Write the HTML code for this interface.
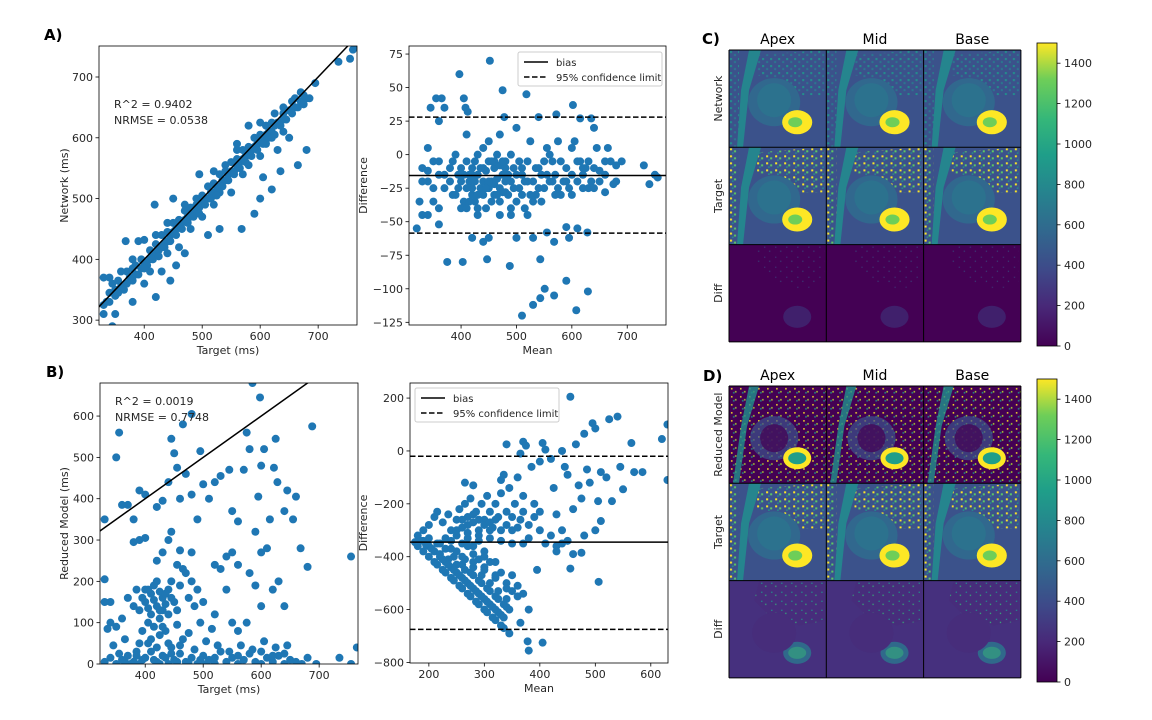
<!DOCTYPE html>
<html><head><meta charset="utf-8">
<style>
html,body{margin:0;padding:0;background:#fff;}
svg{display:block;font-family:"DejaVu Sans","Liberation Sans",sans-serif;}
.tk{font-size:11px;fill:#262626;}
.lab{font-size:11px;fill:#262626;}
.lg{font-size:10px;fill:#262626;}
.pl{font-size:15px;font-weight:bold;fill:#000;}
.ttl{font-size:14px;fill:#000;}
</style></head>
<body>
<svg id="fig" width="1152" height="720" viewBox="0 0 1152 720" xmlns="http://www.w3.org/2000/svg">
<defs>
<linearGradient id="viridis" x1="0" y1="1" x2="0" y2="0">
<stop offset="0" stop-color="#440154"/><stop offset="0.13" stop-color="#482878"/><stop offset="0.25" stop-color="#3e4989"/><stop offset="0.38" stop-color="#31688e"/><stop offset="0.5" stop-color="#26828e"/><stop offset="0.63" stop-color="#1f9e89"/><stop offset="0.75" stop-color="#35b779"/><stop offset="0.88" stop-color="#6ece58"/><stop offset="1" stop-color="#fde725"/>
</linearGradient>
<pattern id="noiseT" width="9" height="7" patternUnits="userSpaceOnUse">
<rect width="9" height="7" fill="#3b528b"/><rect x="1" y="1" width="2" height="2" fill="#fde725"/><rect x="5" y="3" width="2" height="2" fill="#5ec962"/><rect x="3" y="5" width="1.5" height="1.5" fill="#21918c"/>
</pattern>
<pattern id="noiseN" width="8" height="7" patternUnits="userSpaceOnUse">
<rect width="8" height="7" fill="#3b528b"/><rect x="1" y="1" width="2" height="2" fill="#21918c"/><rect x="5" y="4" width="2" height="2" fill="#2a788e"/>
</pattern>
<pattern id="noiseD" width="11" height="10" patternUnits="userSpaceOnUse">
<rect width="11" height="10" fill="#440154"/><rect x="2" y="2" width="1.2" height="1.2" fill="#3b528b"/><rect x="7" y="6" width="1.2" height="1.2" fill="#31688e"/>
</pattern>
<pattern id="noiseR" width="9" height="8" patternUnits="userSpaceOnUse">
<rect width="9" height="8" fill="#440154"/><rect x="2" y="2" width="1.5" height="1.5" fill="#fde725"/><rect x="6" y="5" width="1.5" height="1.5" fill="#b5de2b"/><rect x="4" y="6" width="1.5" height="1.5" fill="#21918c"/>
</pattern>
<pattern id="noiseDD" width="10" height="9" patternUnits="userSpaceOnUse">
<rect width="10" height="9" fill="#472d7b"/><rect x="2" y="2" width="1.3" height="1.3" fill="#21918c"/><rect x="6" y="5" width="1.3" height="1.3" fill="#35b779"/>
</pattern>
</defs>
<g id="plots"></g>
<g id="panels"></g>
</svg>
<script>
// ---------- DATA ----------
const aTarget=[330,335,340,345,350,355,360,365,370,375,380,385,390,395,400,405,410,415,420,425,430,435,440,445,450,455,460,465,470,475,480,485,490,495,500,505,510,515,520,525,530,535,540,545,550,555,560,565,570,575,580,585,590,595,600,605,610,615,620,625,630,640,650,660,670,680,345,330,350,368,390,400,418,420,445,450,455,460,470,480,495,510,530,540,560,568,580,590,600,605,620,635,640,650,665,680,695,735,755,760,765,350,380,400,430,460,500,520,550,570,600,630,440,410,420,470,520,560,600,625,655,675,685,380,360,340,330,330,440,480,530,580,610,620,640,
340,355,370,385,400,415,425,435,445,455,465,475,485,495,505,515,525,535,545,555,565,575,585,595,605,615,625,635,645,655,665,675,410,430,450,470,490,510,530,550,570,590,610,380,395,420,440,460,480,500,520,540,560,580,600,620,640,660,670];
const aNetwork=[370,330,345,360,340,365,355,350,380,370,365,390,375,385,395,390,400,405,410,415,420,425,430,440,445,450,455,460,465,470,475,480,490,485,495,500,500,510,510,520,520,530,530,540,545,545,555,560,565,570,575,580,585,590,595,600,605,610,610,620,625,630,645,650,660,665,290,285,310,430,430,432,490,338,365,500,390,455,410,470,540,440,450,555,580,450,620,475,500,535,515,545,650,600,555,580,690,725,730,745,750,350,400,360,380,420,470,490,510,540,570,580,410,380,440,490,545,590,625,640,660,670,665,330,380,370,310,325,460,450,510,555,590,600,610,
330,345,360,375,385,400,405,420,430,440,450,460,470,475,490,500,505,520,530,540,550,560,570,580,590,600,605,620,630,640,650,655,415,440,460,480,500,520,540,560,580,600,620,385,400,425,445,465,485,505,525,545,565,585,605,625,640,665,675];
const aMean=[330,340,350,360,370,380,390,400,410,420,430,440,450,460,470,480,490,500,510,520,530,540,550,560,570,580,590,600,610,620,630,640,650,660,670,680,385,395,405,415,425,435,445,455,465,475,485,495,505,515,525,535,545,555,565,575,585,595,605,615,625,635,645,400,410,420,430,440,450,460,470,480,490,500,510,440,450,460,470,480,420,430,415,425,445,455,465,475,330,320,325,345,355,365,370,360,340,340,360,375,397,403,405,408,412,420,440,447,450,452,475,478,488,500,510,518,530,530,540,543,543,551,555,568,568,572,590,590,595,602,608,610,615,628,629,635,640,665,690,730,740,750,755,660,675,
380,390,400,410,420,430,440,450,460,470,480,490,500,510,520,530,540,550,560,570,580,590,600,610,620,630,640,650,385,395,405,415,425,435,445,455,465,475,485,495,505,515,525,535,545,555,565,575,360,370,350,340,330,600,620,660,680,410,430,470,490,520,360,350];
const aDiff=[-10,-20,-5,-15,-25,-10,0,-20,-5,-30,-15,5,-25,-10,-35,-20,0,-15,-30,-5,-20,-10,-25,0,-15,-30,-10,5,-20,-15,-25,-10,-20,-15,-5,-20,-30,-15,-35,-20,-5,-25,-40,-20,0,-15,-30,-10,-25,-40,10,-30,-15,5,-20,10,-20,-25,10,-5,-10,-20,5,-40,15,-10,-45,-20,10,-30,15,-5,-40,20,-15,-30,-5,-22,-8,-28,-25,0,-15,-35,-12,-35,-18,-28,-45,-55,-35,35,42,42,35,25,5,-45,-52,-80,60,-80,42,35,32,-62,-65,-78,-62,70,48,28,-83,-62,-120,45,-62,-112,28,-107,-78,-100,-58,-105,-65,30,-54,-94,-62,37,-116,-55,27,-58,-102,27,20,5,-5,-8,-22,-15,-17,-28,-22,
-20,-30,-10,-25,-15,-30,-10,-20,-5,-25,-10,-20,-35,-10,-20,-35,-25,-5,-20,-30,-5,-20,-15,-5,-25,-5,-25,-12,-5,-25,-15,-35,-20,-10,-25,-5,-30,-5,-15,-25,-5,-20,-30,-10,-35,-15,-5,-25,-5,-15,-25,-12,-20,-30,-10,-5,-8,-40,-40,-45,-45,-45,-40,-35];
const aBias=[-15.5], aLimits=[28,-58.5];
const bTarget=[330,340,350,360,370,380,390,400,410,420,430,440,450,460,470,480,490,500,510,520,530,540,550,560,570,580,590,600,610,620,630,640,650,660,670,680,695,735,755,765,345,365,385,405,425,445,465,485,505,525,545,565,585,605,625,645,415,435,395,455,475,495,515,400,410,420,430,440,410,420,430,400,390,450,440,425,415,435,405,445,460,470,480,490,370,380,360,350,340,455,465,475,485,500,520,530,540,550,560,580,600,610,620,630,640,600,590,575,520,540,550,560,420,430,440,445,460,480,390,380,400,330,340,350,355,360,370,380,390,400,420,430,440,445,450,455,460,465,470,480,490,495,500,510,520,530,545,550,560,570,575,580,590,595,598,600,605,615,622,625,628,640,645,655,660,668,680,688,755,585,480,330,330,335,
415,425,435,445,455,475,495,505,395,385,375,365,355,405,415,425,435,445,395,385,405,425,455,430,410,390,420,440,460,520,560,600,640,620];
const bReduced=[5,15,0,10,20,5,0,15,30,5,20,0,10,25,5,15,0,20,10,0,30,5,15,0,10,25,5,0,15,5,20,0,10,5,0,15,0,15,0,40,45,60,30,50,70,40,60,35,55,45,30,45,35,55,40,45,90,80,80,95,75,100,85,150,170,140,160,180,120,200,130,180,130,150,120,175,155,145,135,200,190,220,200,180,160,140,110,90,100,240,230,160,140,150,240,230,260,270,240,220,270,280,180,200,140,140,190,100,120,180,100,80,250,270,300,320,275,270,300,295,305,350,150,500,560,385,385,350,420,410,380,395,440,545,510,475,400,580,460,410,350,515,435,400,440,455,470,370,345,470,560,520,320,405,645,480,520,350,475,545,440,370,420,350,405,280,235,575,260,680,605,205,150,85,
10,0,15,25,5,0,10,0,10,20,0,5,25,180,190,130,170,160,160,180,100,110,130,90,60,50,40,50,45,15,20,30,25,20];
const b2Mean=[175,190,200,215,230,245,260,275,290,305,320,335,345,180,210,225,240,255,270,285,300,315,330,190,200,210,220,230,240,250,260,270,280,290,300,310,320,330,215,230,245,260,275,290,305,320,335,250,265,280,295,310,325,340,350,360,370,340,320,300,290,280,270,300,310,330,350,180,190,200,210,215,225,235,240,250,255,260,265,270,275,280,285,290,295,300,305,310,315,320,325,330,335,340,345,350,355,360,365,370,380,390,400,410,420,430,440,450,230,250,270,290,310,330,350,370,265,280,330,340,365,370,375,385,400,405,410,420,425,430,440,445,450,455,460,465,470,475,480,485,490,495,500,505,510,520,525,530,540,545,550,565,570,585,620,630,630,506,455,460,475,395,380,378,380,405,365,510,480,500,440,430,
185,195,205,220,235,250,265,280,295,310,325,340,200,220,240,260,280,300,320,340,360,240,260,280,300,320,250,270,290,310,330,260,280,300,320,340,290,310,270,350,360,380,370,390,400,345,335,325,315,305,295,285,275,265,255,245,235,225];
const b2Diff=[-345,-380,-400,-430,-460,-490,-520,-550,-580,-610,-640,-670,-690,-360,-420,-450,-480,-510,-540,-570,-600,-630,-660,-340,-360,-380,-400,-420,-440,-460,-480,-500,-520,-540,-560,-580,-600,-620,-350,-370,-400,-430,-460,-490,-520,-550,-580,-380,-410,-440,-470,-500,-530,-560,-530,-550,-540,-500,-480,-440,-410,-390,-360,-380,-420,-460,-470,-320,-300,-280,-250,-230,-270,-240,-300,-260,-220,-290,-200,-250,-180,-270,-230,-300,-200,-260,-170,-230,-290,-200,-250,-160,-90,-230,-140,-300,-200,-100,-260,-170,-330,-250,-300,-350,-320,-360,-350,-340,-330,-320,-330,-340,-330,-340,-350,-350,-120,-130,-110,25,-10,35,20,-60,-40,30,5,-30,-140,-240,0,-60,-90,205,-220,25,-130,-180,65,-70,-120,105,85,-190,-80,-100,120,-190,130,-60,-145,30,-80,-80,45,100,-110,-495,-445,-390,-385,-450,-600,-720,-755,-725,-650,-265,-320,-300,-300,-380,
-340,-355,-370,-390,-410,-430,-450,-470,-500,-530,-560,-590,-330,-350,-370,-400,-420,-450,-470,-520,-510,-340,-350,-360,-400,-420,-300,-310,-320,-300,-300,-260,-240,-280,-260,-280,-260,-270,-280,-250,-290,-280,-230,-200,-230,-600,-630,-610,-590,-570,-550,-530,-510,-490,-470,-450,-430,-410];
const b2Bias=[-345], b2Limits=[-20,-675];
const cbTicks=[0,200,400,600,800,1000,1200,1400];
const colTitles=["Apex","Mid","Base"];

const NS="http://www.w3.org/2000/svg";
function mk(tag,attrs,parent){const e=document.createElementNS(NS,tag);for(const k in attrs)e.setAttribute(k,attrs[k]);if(parent)parent.appendChild(e);return e;}
function txt(parent,x,y,s,cls,anchor,rot){const t=mk('text',{x:x,y:y,class:cls,'text-anchor':anchor||'start'},parent);if(rot)t.setAttribute('transform',`rotate(-90 ${x} ${y})`);t.textContent=s;return t;}
const plots=document.getElementById('plots');

function axes(name,box,xd,yd,xt,yt,xlab,ylab,ylabX){
  const g=mk('g',{},plots);
  
  
  const sx=v=>box.l+(v-xd[0])/(xd[1]-xd[0])*(box.r-box.l);
  const sy=v=>box.b-(v-yd[0])/(yd[1]-yd[0])*(box.b-box.t);
  const clipId=name+'-clip';
  const cp=mk('clipPath',{id:clipId},g);mk('rect',{x:box.l,y:box.t,width:box.r-box.l,height:box.b-box.t},cp);
  const data=mk('g',{'clip-path':`url(#${clipId})`},g);
  xt.forEach(v=>{const x=sx(v);mk('line',{x1:x,x2:x,y1:box.b,y2:box.b+3.5,stroke:'#000','stroke-width':0.8},g);txt(g,x,box.b+15,String(v).replace('-','\u2212'),'tk','middle');});
  yt.forEach(v=>{const y=sy(v);mk('line',{x1:box.l-3.5,x2:box.l,y1:y,y2:y,stroke:'#000','stroke-width':0.8},g);txt(g,box.l-6,y+4,String(v).replace('-','\u2212'),'tk','end');});
  const xl=txt(g,(box.l+box.r)/2,box.b+29,xlab,'lab','middle');
  
  const yl=txt(g,ylabX,(box.t+box.b)/2,ylab,'lab','middle',true);
  
  return {g,data,sx,sy,box,frame:()=>mk('rect',{x:box.l,y:box.t,width:box.r-box.l,height:box.b-box.t,fill:'none',stroke:'#000','stroke-width':0.8},g)};
}
function scatter(ax,xs,ys){xs.forEach((x,i)=>{const c=mk('circle',{cx:ax.sx(x),cy:ax.sy(ys[i]),r:4,fill:'#1f77b4'},ax.data);

});}
function hline(ax,v,dash,name){const l=mk('line',{x1:ax.box.l,x2:ax.box.r,y1:ax.sy(v),y2:ax.sy(v),stroke:'#000','stroke-width':1.5},ax.data);if(dash)l.setAttribute('stroke-dasharray','5.5,2.5');

}
function identity(ax,lo,hi){const l=mk('line',{x1:ax.sx(lo),y1:ax.sy(lo),x2:ax.sx(hi),y2:ax.sy(hi),stroke:'#000','stroke-width':1.5},ax.data);

}
function legend(ax,x,y){const g=mk('g',{},ax.g);


mk('rect',{x:x,y:y,width:144,height:34,fill:'#fff','fill-opacity':0.85,stroke:'#ccc',rx:2},g);
mk('line',{x1:x+6,x2:x+30,y1:y+10,y2:y+10,stroke:'#000','stroke-width':1.5},g);txt(g,x+38,y+14,'bias','lg');
mk('line',{x1:x+6,x2:x+30,y1:y+25,y2:y+25,stroke:'#000','stroke-width':1.5,'stroke-dasharray':'5.5,2.5'},g);txt(g,x+38,y+29,'95% confidence limit','lg');}

const A=axes('scatter-network',{l:99,r:357,t:46,b:325},[322,767],[292,751],[400,500,600,700],[300,400,500,600,700],'Target (ms)','Network (ms)',68);
scatter(A,aTarget,aNetwork);identity(A,300,800);A.frame();
txt(A.g,114,108,'R^2 = 0.9402','lab');txt(A.g,114,124,'NRMSE = 0.0538','lab');
const A2=axes('bland-altman-network',{l:409,r:666,t:46,b:325},[306,770],[-127,81],[400,500,600,700],[-125,-100,-75,-50,-25,0,25,50,75],'Mean','Difference',367);
scatter(A2,aMean,aDiff);hline(A2,aBias[0],false,'bias-line');hline(A2,aLimits[0],true,'upper-limit');hline(A2,aLimits[1],true,'lower-limit');A2.frame();legend(A2,518,52);
const B=axes('scatter-reduced',{l:100,r:358,t:383,b:664},[322,767],[0,680],[400,500,600,700],[0,100,200,300,400,500,600],'Target (ms)','Reduced Model (ms)',68);
scatter(B,bTarget,bReduced);identity(B,300,800);B.frame();
txt(B.g,115,405,'R^2 = 0.0019','lab');txt(B.g,115,421,'NRMSE = 0.7748','lab');
const B2=axes('bland-altman-reduced',{l:410,r:668,t:383,b:663},[166,631],[-802,257],[200,300,400,500,600],[-800,-600,-400,-200,0,200],'Mean','Difference',367);
scatter(B2,b2Mean,b2Diff);hline(B2,b2Bias[0],false,'bias-line');hline(B2,b2Limits[0],true,'upper-limit');hline(B2,b2Limits[1],true,'lower-limit');B2.frame();legend(B2,415,388);

[['A)',44,40],['B)',46,377],['C)',702,44],['D)',703,381]].forEach(p=>{const t=txt(plots,p[1],p[2],p[0],'pl');

});

const panels=document.getElementById('panels');
function cell(g,x,y,w,type){
  const s=w/97;const c=mk('g',{transform:`translate(${x},${y}) scale(${s})`},g);
  
  
  if(type==='diff'||type==='diff2'){
    mk('rect',{width:97,height:97,fill:type==='diff'?'#440154':'#46307e'},c);
    mk('path',{d:'M30 0 L95 0 L95 40 L70 45 L40 35 L25 20Z',fill:type==='diff'?'url(#noiseD)':'url(#noiseDD)',opacity:type==='diff'?0.6:0.9},c);
    mk('ellipse',{cx:68,cy:72,rx:14,ry:11,fill:type==='diff'?'#3b3f84':'#2a788e',opacity:type==='diff'?0.5:0.8},c);
    if(type==='diff2'){mk('ellipse',{cx:68,cy:72,rx:9,ry:6,fill:'#35b779',opacity:0.5},c);mk('ellipse',{cx:45,cy:52,rx:22,ry:20,fill:'#472d7b'},c);}
    return;}
  if(type==='reduced'){
    mk('rect',{width:97,height:97,fill:'url(#noiseR)'},c);
    mk('path',{d:'M20 0 L30 0 L18 40 L10 97 L4 97 L12 40Z',fill:'#21918c',opacity:0.8},c);
    mk('ellipse',{cx:45,cy:52,rx:24,ry:22,fill:'#3b528b',opacity:0.7},c);
    mk('ellipse',{cx:45,cy:52,rx:14,ry:14,fill:'#440154',opacity:0.7},c);
    mk('ellipse',{cx:68,cy:72,rx:14,ry:11,fill:'#fde725'},c);
    mk('ellipse',{cx:68,cy:72,rx:9,ry:6,fill:'#1f9e89'},c);
    return;}
  mk('rect',{width:97,height:97,fill:'#3b528b'},c);
  mk('path',{d:'M28 5 L95 0 L95 45 L70 45 L45 30 L28 25Z',fill:type==='target'?'url(#noiseT)':'url(#noiseN)'},c);
  mk('rect',{x:0,y:0,width:10,height:97,fill:type==='target'?'url(#noiseT)':'url(#noiseN)'},c);
  mk('path',{d:'M20 0 L32 0 L20 40 L14 97 L8 97 L12 40Z',fill:'#25858e'},c);
  mk('ellipse',{cx:45,cy:52,rx:26,ry:24,fill:'#31688e'},c);
  mk('ellipse',{cx:45,cy:50,rx:17,ry:17,fill:'#2c728e'},c);
  mk('ellipse',{cx:68,cy:72,rx:15,ry:12,fill:'#fde725'},c);
  mk('ellipse',{cx:66,cy:72,rx:7,ry:5,fill:'#6ece58'},c);
}
function grid(name,top,rows,rowLabels,cbTop,cbBot){
  const g=mk('g',{},panels);
  
  
  const L=729,W=97.3;
  colTitles.forEach((t,i)=>{const e=txt(g,L+W*i+W/2,top-6,t,'ttl','middle');
  
  });
  rows.forEach((r,j)=>{for(let i=0;i<3;i++)cell(g,L+W*i,top+W*j,W,r);
    const e=txt(g,722,top+W*j+W/2,rowLabels[j],'lab','middle',true);
    
    });
  for(let i=0;i<=3;i++){mk('line',{x1:L+W*i,x2:L+W*i,y1:top,y2:top+3*W,stroke:'#000','stroke-width':1},g);mk('line',{x1:L,x2:L+3*W,y1:top+W*i,y2:top+W*i,stroke:'#000','stroke-width':1},g);}
  const cb=mk('g',{},g);
  
  
  mk('rect',{x:1037,y:cbTop,width:20,height:cbBot-cbTop,fill:'url(#viridis)',stroke:'#000','stroke-width':0.8},cb);
  cbTicks.forEach(v=>{const y=cbBot-v/1500*(cbBot-cbTop);mk('line',{x1:1057,x2:1060.5,y1:y,y2:y,stroke:'#000','stroke-width':0.8},cb);txt(cb,1064,y+4,String(v),'tk');});
}
grid('panel-c-maps',50,['net','target','diff'],['Network','Target','Diff'],43,346);
grid('panel-d-maps',386,['reduced','target','diff2'],['Reduced Model','Target','Diff'],379,682);
</script>
</body></html>
